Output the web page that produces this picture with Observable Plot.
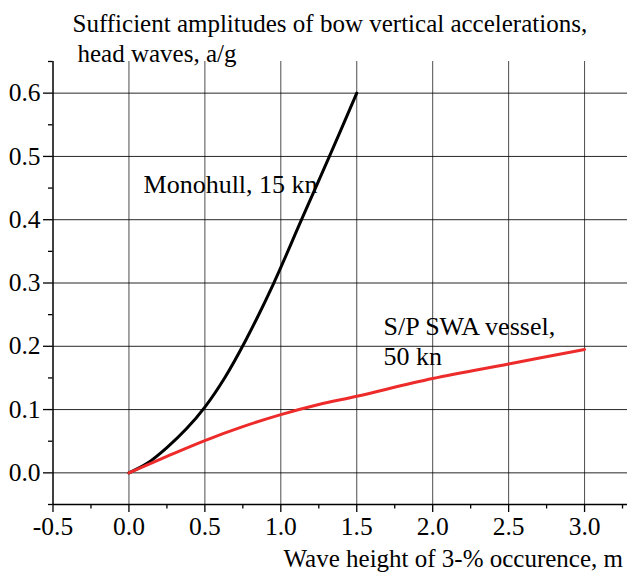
<!DOCTYPE html>
<html>
<head>
<meta charset="utf-8">
<script src="https://cdn.jsdelivr.net/npm/d3@7"></script>
<script src="https://cdn.jsdelivr.net/npm/@observablehq/plot@0.6"></script>
<style>
  html, body { margin: 0; padding: 0; background: #fff; overflow: hidden; }
  #chart { position: relative; width: 627px; height: 574px; overflow: hidden; }
  #chart svg { display: block; }
</style>
</head>
<body>
<div id="chart"></div>
<script>
// ---- Data ----
const monohullX = [0, 0.12, 0.25, 0.38, 0.5, 0.63, 0.77, 0.95, 1.14, 1.32, 1.5];
const monohullY = [0, 0.015, 0.04, 0.07, 0.104, 0.15, 0.21, 0.298, 0.402, 0.5, 0.6];
const swaX = [0, 0.25, 0.5, 0.75, 1.0, 1.25, 1.5, 2.0, 2.5, 3.0];
const swaY = [0, 0.026, 0.051, 0.073, 0.092, 0.108, 0.121, 0.149, 0.172, 0.195];

const xMajorTicks = [-0.5, 0, 0.5, 1.0, 1.5, 2.0, 2.5, 3.0];
const xMinorTicks = [-0.25, 0.25, 0.75, 1.25, 1.75, 2.25, 2.75, 3.25];
const xGridTicks = [0, 0.5, 1.0, 1.5, 2.0, 2.5, 3.0];
const yMajorTicks = [0, 0.1, 0.2, 0.3, 0.4, 0.5, 0.6];
const yMinorTicks = [-0.05, 0.05, 0.15, 0.25, 0.35, 0.45, 0.55, 0.65];

const titleLine1 = "Sufficient amplitudes of bow vertical accelerations,";
const titleLine2 = "head waves, a/g";
const xLabel = "Wave height of 3-% occurence, m";
const annotations = [
  {x: 0.096, y: 0.443, text: "Monohull, 15 kn"},
  {x: 1.676, y: 0.170, text: "S/P SWA vessel,\n50 kn"}
];

const monohull = monohullX.map((x, i) => ({x, y: monohullY[i]}));
const swa = swaX.map((x, i) => ({x, y: swaY[i]}));

const FONT = "Liberation Serif";
const fmt = (d) => d.toFixed(1);

const plot = Plot.plot({
  width: 627,
  height: 574,
  marginLeft: 52.5,
  marginRight: -33,
  marginTop: 61,
  marginBottom: 70,
  style: {fontFamily: FONT, background: "white", color: "black"},
  x: {domain: [-0.5, 3.5], axis: null},
  y: {domain: [-0.05, 0.65], axis: null},
  marks: [
    Plot.gridX(xGridTicks, {stroke: "#000", strokeOpacity: 0.7, strokeWidth: 1}),
    Plot.gridY(yMajorTicks, {stroke: "#000", strokeOpacity: 0.85, strokeWidth: 1}),
    Plot.ruleX([-0.5], {stroke: "#000", strokeWidth: 1.5}),
    Plot.ruleY([-0.05], {stroke: "#000", strokeWidth: 1.5}),
    Plot.axisY(yMajorTicks, {anchor: "left", tickSize: 9.5, tickPadding: 3, tickFormat: fmt, fontSize: 25.5, fontFamily: FONT, label: null, stroke: "#000", strokeWidth: 1.3}),
    Plot.axisY(yMinorTicks, {anchor: "left", tickSize: 4.5, text: null, label: null, stroke: "#000", strokeWidth: 1.3}),
    Plot.axisX(xMajorTicks, {anchor: "bottom", tickSize: 8, tickPadding: 4, tickFormat: fmt, fontSize: 25.5, fontFamily: FONT, label: null, stroke: "#000", strokeWidth: 1.3}),
    Plot.axisX(xMinorTicks, {anchor: "bottom", tickSize: 4.5, text: null, label: null, stroke: "#000", strokeWidth: 1.3}),
    Plot.line(monohull, {x: "x", y: "y", stroke: "#000", strokeWidth: 3, curve: "catmull-rom"}),
    Plot.line(swa, {x: "x", y: "y", stroke: "#ee2b2b", strokeWidth: 3, curve: "catmull-rom"}),
    Plot.text(annotations, {x: "x", y: "y", text: "text", textAnchor: "start", lineAnchor: "bottom", lineHeight: 1.15, fontSize: 26, fontFamily: FONT, fill: "#000"}),
    Plot.text([titleLine1], {frameAnchor: "top-left", textAnchor: "start", lineAnchor: "bottom", dx: 19.5, dy: -29.5, fontSize: 25, fontFamily: FONT, fill: "#000"}),
    Plot.text([titleLine2], {frameAnchor: "top-left", textAnchor: "start", lineAnchor: "bottom", dx: 24.5, dy: 0.5, fontSize: 25, fontFamily: FONT, fill: "#000"}),
    Plot.text([xLabel], {frameAnchor: "bottom-left", textAnchor: "start", lineAnchor: "bottom", dx: 230.5, dy: 62, fontSize: 25, fontFamily: FONT, fill: "#000"})
  ]
});
document.getElementById("chart").appendChild(plot);
</script>
</body>
</html>
